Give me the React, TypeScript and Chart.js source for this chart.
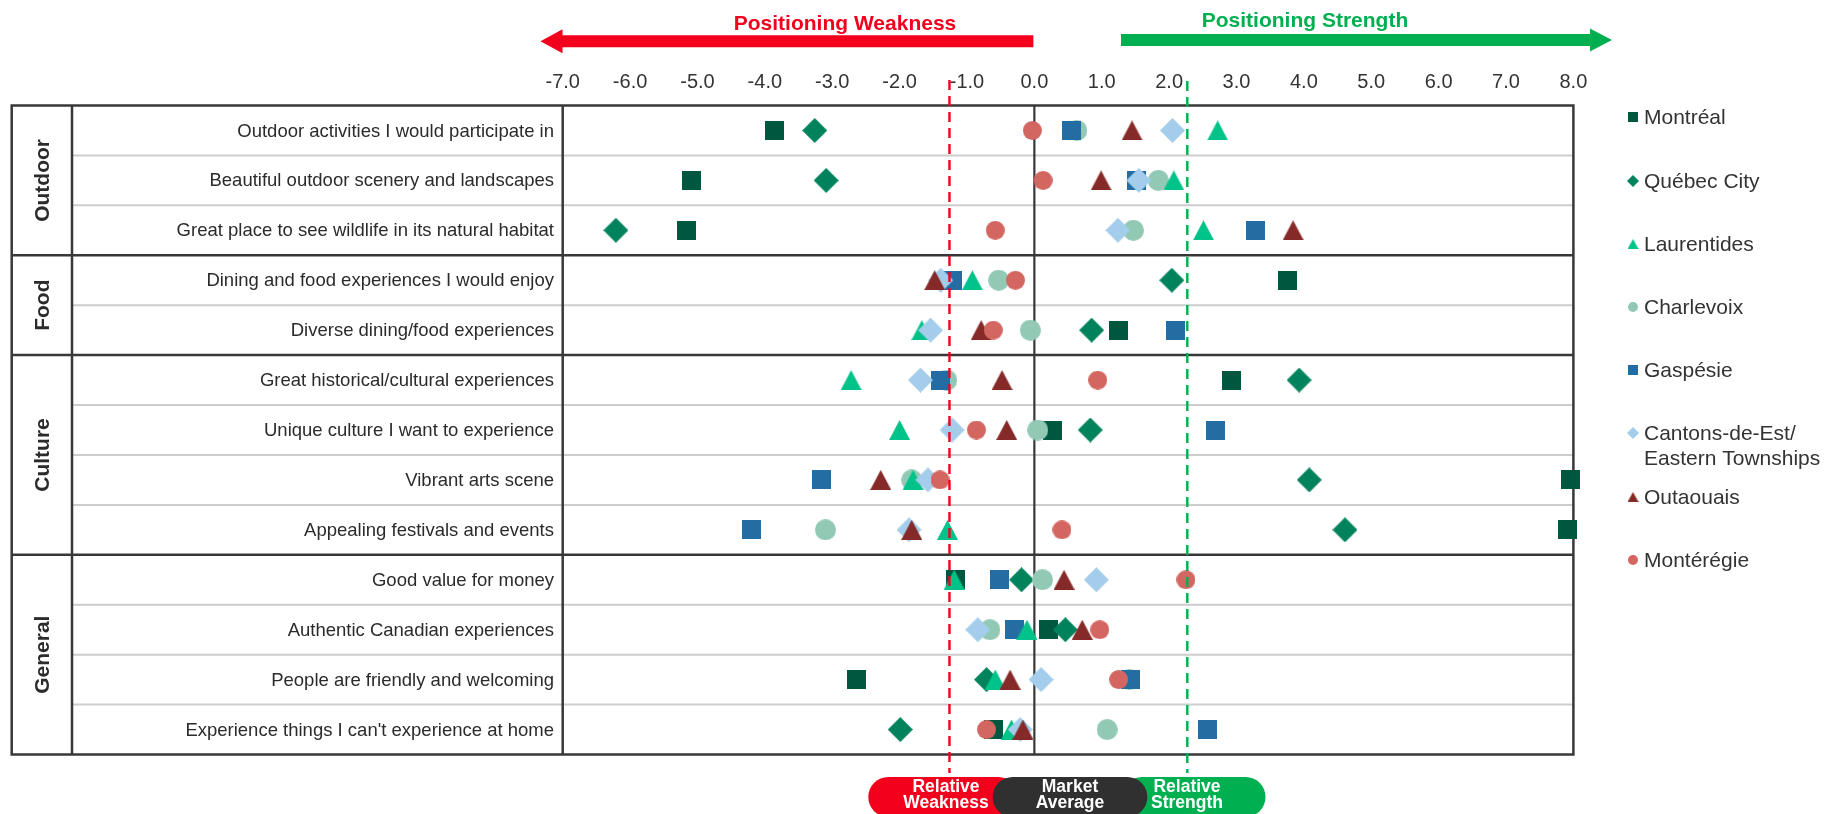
import { useEffect, useRef } from 'react';
import { Chart, registerables } from 'chart.js';

Chart.register(...registerables);

// ---- data -------------------------------------------------------------
const attributes = [
  'Outdoor activities I would participate in',
  'Beautiful outdoor scenery and landscapes',
  'Great place to see wildlife in its natural habitat',
  'Dining and food experiences I would enjoy',
  'Diverse dining/food experiences',
  'Great historical/cultural experiences',
  'Unique culture I want to experience',
  'Vibrant arts scene',
  'Appealing festivals and events',
  'Good value for money',
  'Authentic Canadian experiences',
  'People are friendly and welcoming',
  "Experience things I can't experience at home",
];
const groupNames = ['Outdoor', 'Food', 'Culture', 'General'];
const groupSizes = [3, 2, 4, 4];

const regionNames = [
  'Montréal',
  'Québec City',
  'Laurentides',
  'Charlevoix',
  'Gaspésie',
  'Cantons-de-Est/\nEastern Townships',
  'Outaouais',
  'Montérégie',
];

const montreal = [-3.86, -5.09, -5.17, 3.75, 1.25, 2.92, 0.27, 7.95, 7.91, -1.17, 0.21, -2.64, -0.61];
const quebecCity = [-3.26, -3.09, -6.21, 2.04, 0.85, 3.93, 0.83, 4.08, 4.61, -0.19, 0.46, -0.71, -1.99];
const laurentides = [2.72, 2.07, 2.51, -0.92, -1.67, -2.72, -2.0, -1.8, -1.29, -1.19, -0.11, -0.58, -0.34];
const charlevoix = [0.63, 1.84, 1.47, -0.53, -0.06, -1.3, 0.05, -1.82, -3.1, 0.12, -0.66, 1.41, 1.08];
const gaspesie = [0.55, 1.52, 3.28, -1.21, 2.09, -1.39, 2.69, -3.16, -4.2, -0.52, -0.3, 1.42, 2.57];
const cantonsDeEst = [2.05, 1.55, 1.24, -1.39, -1.54, -1.69, -1.22, -1.58, -1.86, 0.92, -0.84, 0.1, -0.21];
const outaouais = [1.45, 0.99, 3.84, -1.48, -0.79, -0.48, -0.41, -2.28, -1.82, 0.44, 0.71, -0.36, -0.17];
const monteregie = [-0.03, 0.13, -0.58, -0.28, -0.61, 0.94, -0.86, -1.4, 0.41, 2.25, 0.97, 1.25, -0.71];

const seriesValues = [montreal, quebecCity, laurentides, charlevoix, gaspesie, cantonsDeEst, outaouais, monteregie];

const xTicks = [-7, -6, -5, -4, -3, -2, -1, 0, 1, 2, 3, 4, 5, 6, 7, 8];
const relativeWeakness = -1.26;
const relativeStrength = 2.27;

// ---- styling ----------------------------------------------------------
type Shape = 'square' | 'diamond' | 'triangle' | 'circle';
const seriesColors = ['#00573F', '#00835C', '#00C389', '#92C9B5', '#246DA3', '#A3CDEB', '#852A29', '#D46661'];
const seriesShapes: Shape[] = ['square', 'diamond', 'triangle', 'circle', 'square', 'diamond', 'triangle', 'circle'];
const seriesSizes = [19, 25, 21, 21, 19, 25, 21, 19];
const legendSizes = [10, 12, 11, 10, 10, 12, 11, 10];
// drawing sequence, bottom first
const drawSequence = [0, 1, 3, 4, 2, 5, 6, 7];

const W = 1829;
const H = 814;
const FONT = '"Liberation Sans", Arial, Helvetica, sans-serif';
const RED = '#F2001C';
const GREEN = '#00B050';
const INK = '#2B2B2B';
const FRAME = '#383838';

function makeMarker(shape: Shape, color: string, size: number): HTMLCanvasElement {
  const c = document.createElement('canvas');
  const w = size;
  const h = shape === 'triangle' ? Math.round(size * 0.95) : size;
  c.width = w;
  c.height = h;
  const g = c.getContext('2d')!;
  g.fillStyle = color;
  g.beginPath();
  if (shape === 'square') {
    g.rect(0, 0, w, h);
  } else if (shape === 'diamond') {
    g.moveTo(w / 2, 0);
    g.lineTo(w, h / 2);
    g.lineTo(w / 2, h);
    g.lineTo(0, h / 2);
    g.closePath();
  } else if (shape === 'triangle') {
    g.moveTo(w / 2, 0);
    g.lineTo(w, h);
    g.lineTo(0, h);
    g.closePath();
  } else {
    g.arc(w / 2, h / 2, w / 2, 0, Math.PI * 2);
  }
  g.fill();
  return c;
}

function roundRect(ctx: CanvasRenderingContext2D, x: number, y: number, w: number, h: number, r: number) {
  ctx.beginPath();
  ctx.moveTo(x + r, y);
  ctx.lineTo(x + w - r, y);
  ctx.arc(x + w - r, y + r, r, -Math.PI / 2, 0);
  ctx.lineTo(x + w, y + h - r);
  ctx.arc(x + w - r, y + h - r, r, 0, Math.PI / 2);
  ctx.lineTo(x + r, y + h);
  ctx.arc(x + r, y + h - r, r, Math.PI / 2, Math.PI);
  ctx.lineTo(x, y + r);
  ctx.arc(x + r, y + r, r, Math.PI, Math.PI * 1.5);
  ctx.closePath();
}

function arrow(
  ctx: CanvasRenderingContext2D,
  xFrom: number,
  xTip: number,
  headLen: number,
  yc: number,
  bodyHalf: number,
  headHalf: number,
  color: string,
) {
  const dir = Math.sign(xTip - xFrom);
  const base = xTip - dir * headLen;
  ctx.fillStyle = color;
  ctx.beginPath();
  ctx.moveTo(xFrom, yc - bodyHalf);
  ctx.lineTo(base, yc - bodyHalf);
  ctx.lineTo(base, yc - headHalf);
  ctx.lineTo(xTip, yc);
  ctx.lineTo(base, yc + headHalf);
  ctx.lineTo(base, yc + bodyHalf);
  ctx.lineTo(xFrom, yc + bodyHalf);
  ctx.closePath();
  ctx.fill();
}

function line(ctx: CanvasRenderingContext2D, x1: number, y1: number, x2: number, y2: number) {
  ctx.beginPath();
  ctx.moveTo(x1, y1);
  ctx.lineTo(x2, y2);
  ctx.stroke();
}

const tableLeft = 11.7;
const groupColRight = 72;
const labelRight = 554;

const tablePlugin = {
  id: 'positioningTable',
  beforeDatasetsDraw(chart: any) {
    const ctx: CanvasRenderingContext2D = chart.ctx;
    const xs = chart.scales.x;
    const ys = chart.scales.y;
    const plotLeft = xs.getPixelForValue(-7);
    const tableRight = xs.getPixelForValue(8);
    const top = ys.getPixelForValue(-0.5);
    const bottom = ys.getPixelForValue(attributes.length - 0.5);

    ctx.save();
    // group boundaries
    const boundaries: number[] = [];
    let acc = 0;
    groupSizes.forEach((n) => {
      acc += n;
      boundaries.push(acc);
    });

    // light row separators
    ctx.strokeStyle = '#CDCDCD';
    ctx.lineWidth = 2;
    for (let i = 1; i < attributes.length; i++) {
      if (boundaries.includes(i)) continue;
      const y = ys.getPixelForValue(i - 0.5);
      line(ctx, groupColRight, y, tableRight, y);
    }

    // market average axis
    ctx.strokeStyle = FRAME;
    ctx.lineWidth = 2.2;
    const x0 = xs.getPixelForValue(0);
    line(ctx, x0, top, x0, bottom);

    // dark frame
    ctx.lineWidth = 2.5;
    boundaries.slice(0, -1).forEach((b) => {
      const y = ys.getPixelForValue(b - 0.5);
      line(ctx, tableLeft, y, tableRight, y);
    });
    ctx.strokeRect(tableLeft, top, tableRight - tableLeft, bottom - top);
    line(ctx, groupColRight, top, groupColRight, bottom);
    line(ctx, plotLeft, top, plotLeft, bottom);

    // attribute labels
    ctx.fillStyle = INK;
    ctx.font = `18.5px ${FONT}`;
    ctx.textAlign = 'right';
    ctx.textBaseline = 'middle';
    attributes.forEach((a, i) => {
      ctx.fillText(a, labelRight, ys.getPixelForValue(i) + 1);
    });

    // group labels (rotated)
    ctx.font = `bold 21px ${FONT}`;
    ctx.textAlign = 'center';
    let start = 0;
    groupNames.forEach((g, gi) => {
      const end = start + groupSizes[gi];
      const yc = (ys.getPixelForValue(start - 0.5) + ys.getPixelForValue(end - 0.5)) / 2;
      ctx.save();
      ctx.translate((tableLeft + groupColRight) / 2 + 1, yc);
      ctx.rotate(-Math.PI / 2);
      ctx.fillText(g, 0, 0);
      ctx.restore();
      start = end;
    });

    // tick labels along the top
    ctx.font = `20px ${FONT}`;
    ctx.fillStyle = '#333333';
    xTicks.forEach((t) => {
      ctx.fillText(t.toFixed(1), xs.getPixelForValue(t), 82);
    });

    // positioning arrows
    arrow(ctx, x0 - 1, 540.5, 22, 41.3, 6, 12, RED);
    arrow(ctx, 1121, 1612, 22, 40, 6, 11.5, GREEN);
    ctx.font = `bold 21px ${FONT}`;
    ctx.fillStyle = RED;
    ctx.fillText('Positioning Weakness', 845, 24);
    ctx.fillStyle = GREEN;
    ctx.fillText('Positioning Strength', 1305, 21);

    // legend
    const legendY = [117, 181, 244, 307, 370, 433, 497, 560];
    regionNames.forEach((name, i) => {
      const m = makeMarker(seriesShapes[i], seriesColors[i], legendSizes[i]);
      ctx.drawImage(m, 1633 - m.width / 2, legendY[i] - m.height / 2);
      ctx.font = `21px ${FONT}`;
      ctx.fillStyle = '#333333';
      ctx.textAlign = 'left';
      name.split('\n').forEach((ln, k) => {
        ctx.fillText(ln, 1644, legendY[i] + 1 + k * 25.5);
      });
    });

    // relative strength band at the bottom
    ctx.fillStyle = RED;
    roundRect(ctx, 868.3, 777, 150, 40, 20);
    ctx.fill();
    ctx.fillStyle = GREEN;
    roundRect(ctx, 1122, 777, 143.5, 40, 20);
    ctx.fill();
    ctx.fillStyle = '#303030';
    roundRect(ctx, 992.7, 777, 154.6, 40, 20);
    ctx.fill();
    ctx.fillStyle = '#FFFFFF';
    ctx.font = `bold 17.5px ${FONT}`;
    ctx.textAlign = 'center';
    const bands = [
      ['Relative', 'Weakness', 946],
      ['Market', 'Average', 1070],
      ['Relative', 'Strength', 1187],
    ] as const;
    bands.forEach(([a, b, x]) => {
      ctx.fillText(a, x, 787.5);
      ctx.fillText(b, x, 803);
    });
    ctx.restore();
  },
  afterDatasetsDraw(chart: any) {
    const ctx: CanvasRenderingContext2D = chart.ctx;
    const xs = chart.scales.x;
    ctx.save();
    ctx.lineWidth = 2.4;
    ctx.setLineDash([10, 6]);
    ctx.strokeStyle = RED;
    const xr = xs.getPixelForValue(relativeWeakness);
    line(ctx, xr, 80, xr, 773);
    ctx.strokeStyle = GREEN;
    const xg = xs.getPixelForValue(relativeStrength);
    line(ctx, xg, 81, xg, 773);
    ctx.restore();
  },
};

export default function App() {
  const canvasRef = useRef<HTMLCanvasElement | null>(null);

  useEffect(() => {
    document.body.style.margin = '0';
    document.body.style.overflow = 'hidden';
    const canvas = canvasRef.current;
    if (!canvas) return;

    const datasets = regionNames.map((name, i) => ({
      label: name.replace('\n', ' '),
      data: seriesValues[i].map((v, row) => ({ x: v, y: row })),
      pointStyle: makeMarker(seriesShapes[i], seriesColors[i], seriesSizes[i]),
      pointRadius: 10,
      pointHoverRadius: 10,
      backgroundColor: seriesColors[i],
      borderColor: seriesColors[i],
      showLine: false,
      clip: false as const,
      order: drawSequence.length - 1 - drawSequence.indexOf(i),
    }));

    const chart = new Chart(canvas, {
      type: 'scatter',
      data: { datasets },
      options: {
        responsive: false,
        animation: false,
        events: [],
        layout: {
          padding: { left: 562.7, right: W - 1573.4, top: 105.5, bottom: H - 754.5 },
        },
        scales: {
          x: { type: 'linear', min: -7, max: 8, display: false },
          y: { type: 'linear', min: -0.5, max: 12.5, reverse: true, display: false },
        },
        plugins: {
          legend: { display: false },
          tooltip: { enabled: false },
        },
      },
      plugins: [tablePlugin],
    });

    return () => chart.destroy();
  }, []);

  return (
    <div style={{ position: 'absolute', left: 0, top: 0, width: W, height: H, background: '#FFFFFF' }}>
      <canvas ref={canvasRef} width={W} height={H} style={{ width: W, height: H, display: 'block' }} />
    </div>
  );
}
